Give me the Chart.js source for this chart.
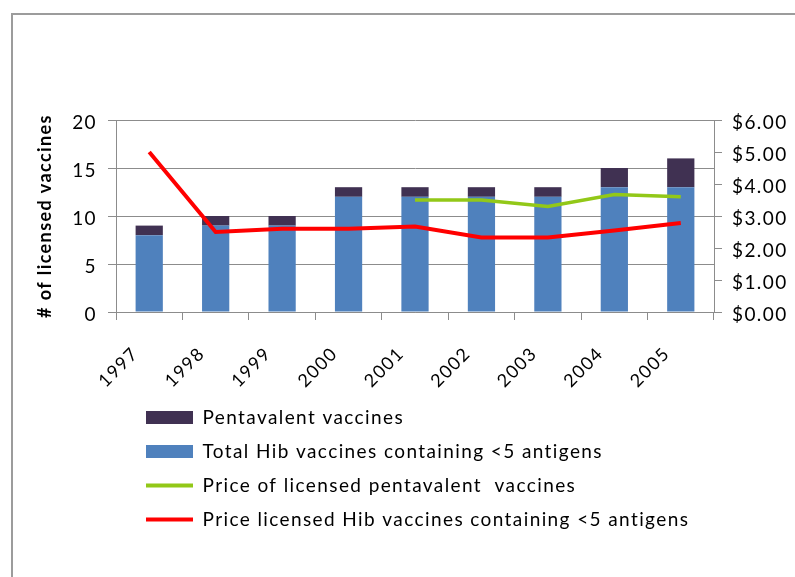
<!DOCTYPE html>
<html>
<head>
<meta charset="utf-8">
<script src="https://cdn.jsdelivr.net/npm/chart.js@4"></script>
<style>
  html, body { margin: 0; padding: 0; background: #fff; overflow: hidden; }
  #wrap { position: relative; width: 795px; height: 577px; }
  #frame { position: absolute; left: 11px; top: 13px; width: 900px; height: 700px;
           border-left: 2px solid #9c9c9c; border-top: 2px solid #9c9c9c; pointer-events: none; }
  canvas { position: absolute; left: 0; top: 0; }
</style>
</head>
<body>
<div id="wrap">
  <canvas id="chart" width="795" height="577"></canvas>
  <div id="frame"></div>
</div>
<script>
// values
const years = ['1997', '1998', '1999', '2000', '2001', '2002', '2003', '2004', '2005'];
const hibTotal = [8, 9, 9, 12, 12, 12, 12, 13, 13];
const pentavalent = [1, 1, 1, 1, 1, 1, 1, 2, 3];
const pentaPrice = [null, null, null, null, 3.5, 3.5, 3.3, 3.67, 3.6];
const hibPrice = [5.0, 2.5, 2.6, 2.6, 2.67, 2.33, 2.33, 2.55, 2.78];

const axisGray = '#8c8c8c';
const font = 'Lato';

// the original text is set a little wider than Lato, so space the letters out
const letterSpacing = {
    id: 'letterSpacing',
    beforeLayout(chart) { chart.ctx.letterSpacing = '1.4px'; },
    beforeDraw(chart) { chart.ctx.letterSpacing = '1.4px'; }
};

// legend starts a bit right of the plot's left edge
const shiftLegend = {
    id: 'shiftLegend',
    afterLayout(chart) {
        const lg = chart.legend;
        if (lg) {
            lg.left += 15;
            lg.right += 15;
        }
    }
};

const legendRank = {
    'Pentavalent vaccines': 0,
    'Total Hib vaccines containing <5 antigens': 1,
    'Price of licensed pentavalent  vaccines': 2,
    'Price licensed Hib vaccines containing <5 antigens': 3
};

new Chart(document.getElementById('chart').getContext('2d'), {
    type: 'bar',
    data: {
        labels: years,
        datasets: [
            {
                type: 'line',
                label: 'Price of licensed pentavalent  vaccines',
                data: pentaPrice,
                yAxisID: 'y1',
                borderColor: '#92c818',
                backgroundColor: '#92c818',
                borderWidth: 3.5,
                pointRadius: 0,
                tension: 0,
                order: 0
            },
            {
                type: 'line',
                label: 'Price licensed Hib vaccines containing <5 antigens',
                data: hibPrice,
                yAxisID: 'y1',
                borderColor: '#ff0000',
                backgroundColor: '#ff0000',
                borderWidth: 4,
                pointRadius: 0,
                tension: 0,
                order: 0
            },
            {
                label: 'Total Hib vaccines containing <5 antigens',
                data: hibTotal,
                yAxisID: 'y',
                backgroundColor: '#4f81bd',
                borderWidth: 0,
                stack: 's',
                order: 1
            },
            {
                label: 'Pentavalent vaccines',
                data: pentavalent,
                yAxisID: 'y',
                backgroundColor: '#403152',
                borderWidth: 0,
                stack: 's',
                order: 1
            }
        ]
    },
    options: {
        responsive: false,
        animation: false,
        layout: { padding: { top: 120, left: 0, right: 0, bottom: 38 } },
        datasets: {
            bar: { barPercentage: 0.41, categoryPercentage: 1 }
        },
        scales: {
            x: {
                stacked: true,
                grid: { offset: true, drawOnChartArea: false, drawTicks: true, tickLength: 8, color: axisGray },
                border: { color: axisGray },
                ticks: {
                    color: '#000',
                    font: { family: font, size: 18 },
                    minRotation: 45,
                    maxRotation: 45,
                    padding: 23,
                    labelOffset: -14
                },
                afterFit(scale) { scale.height = 81; }
            },
            y: {
                position: 'left',
                stacked: true,
                min: 0,
                max: 20,
                ticks: { stepSize: 5, color: '#000', font: { family: font, size: 19 }, padding: 11, labelOffset: 3 },
                grid: { color: axisGray, tickLength: 8 },
                border: { color: axisGray },
                title: {
                    display: true,
                    text: '# of licensed vaccines',
                    color: '#000',
                    font: { family: font, size: 18, weight: 'bold' },
                    padding: { top: 34, bottom: 0 }
                },
                afterFit(scale) { scale.width = 116; }
            },
            y1: {
                position: 'right',
                min: 0,
                max: 6,
                ticks: {
                    stepSize: 1,
                    color: '#000',
                    font: { family: font, size: 19 },
                    padding: 10,
                    labelOffset: 3,
                    callback: v => '$' + v.toFixed(2)
                },
                grid: { drawOnChartArea: false, tickLength: 8, color: axisGray },
                border: { color: axisGray },
                afterFit(scale) { scale.width = 81; }
            }
        },
        plugins: {
            tooltip: { enabled: false },
            legend: {
                position: 'bottom',
                align: 'start',
                fullSize: false,
                labels: {
                    color: '#000',
                    font: { family: font, size: 19 },
                    usePointStyle: true,
                    pointStyleWidth: 47,
                    boxHeight: 13,
                    padding: 15,
                    sort: (a, b) => legendRank[a.text] - legendRank[b.text],
                    generateLabels(chart) {
                        const items = Chart.defaults.plugins.legend.labels.generateLabels(chart);
                        items.forEach(item => {
                            const ds = chart.data.datasets[item.datasetIndex];
                            if (ds.type === 'line') {
                                item.pointStyle = 'line';
                                item.lineWidth = 4;
                                item.strokeStyle = ds.borderColor;
                            } else {
                                item.pointStyle = 'rect';
                                item.lineWidth = 0;
                            }
                        });
                        return items;
                    }
                }
            }
        }
    },
    plugins: [letterSpacing, shiftLegend]
});
</script>
</body>
</html>
